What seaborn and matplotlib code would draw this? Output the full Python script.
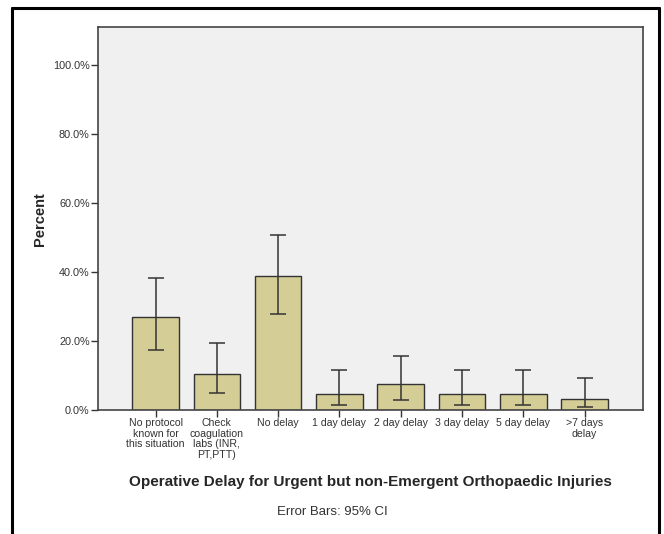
import matplotlib
matplotlib.use("Agg")
import matplotlib.pyplot as plt
from matplotlib.lines import Line2D
import numpy as np
import seaborn as sns

# DATA
categories = ["No protocol\nknown for\nthis situation", "Check\ncoagulation\nlabs (INR,\nPT,PTT)",
              "No delay", "1 day delay", "2 day delay", "3 day delay", "5 day delay", ">7 days\ndelay"]
percent = [26.9, 10.5, 38.9, 4.6, 7.6, 4.6, 4.6, 3.2]
ci_low = [17.5, 4.9, 27.9, 1.5, 3.0, 1.5, 1.5, 0.8]
ci_high = [38.2, 19.5, 50.7, 11.6, 15.7, 11.6, 11.6, 9.4]
y_ticks = [0, 20, 40, 60, 80, 100]

sns.set_style("white")
plt.rcParams['font.family'] = ['Liberation Sans', 'DejaVu Sans']

fig = plt.figure(figsize=(6.64, 5.34), dpi=100)
ax = fig.add_axes([0.1476, 0.232, 0.8204, 0.717])
ax.set_facecolor("#F0F0F0")

sns.barplot(x=categories, y=percent, color="#D4CE96", edgecolor="#333333",
            linewidth=1.0, width=0.76, errorbar=None, saturation=1, ax=ax)

vals = np.array(percent)
yerr = [vals - np.array(ci_low), np.array(ci_high) - vals]
ax.errorbar(np.arange(len(categories)), vals, yerr=yerr, fmt="none",
            ecolor="#333333", elinewidth=1.1, capsize=5.5, capthick=1.1)

ax.set_xlim(-0.94, len(categories) - 0.05)
ax.set_ylim(0, 111)
ax.set_yticks(y_ticks)
ax.set_yticklabels([f"{t:.1f}%" for t in y_ticks])

for sp in ax.spines.values():
    sp.set_color("#444444")
    sp.set_linewidth(1.2)

ax.tick_params(axis="both", which="both", direction="out", length=5, width=1,
               color="#333333", labelcolor="#333333", labelsize=7.8, pad=1, left=True, bottom=True)
ax.tick_params(axis="x", labelsize=7.6)
for lbl in ax.get_xticklabels():
    lbl.set_linespacing(1.05)
    lbl.set_verticalalignment("top")

ax.set_ylabel("Percent", fontsize=10.5, fontweight="bold", labelpad=4)
ax.set_xlabel("Operative Delay for Urgent but non-Emergent Orthopaedic Injuries",
              fontsize=11, fontweight="bold", labelpad=11)
fig.text(0.5, 1 - 512 / 534, "Error Bars: 95% CI", ha="center", va="center",
         fontsize=9.5, color="#333333")

# outer frame around the figure (bottom edge cut off in the reference)
fx0, fx1, fy1 = 12 / 664, 659 / 664, 1 - 8 / 534
for xs, ys in [([fx0, fx0], [0, fy1]), ([fx0, fx1], [fy1, fy1]), ([fx1, fx1], [fy1, 0])]:
    fig.add_artist(Line2D(xs, ys, color="black", linewidth=2.2, transform=fig.transFigure))

fig.savefig("out.png", dpi=100)
